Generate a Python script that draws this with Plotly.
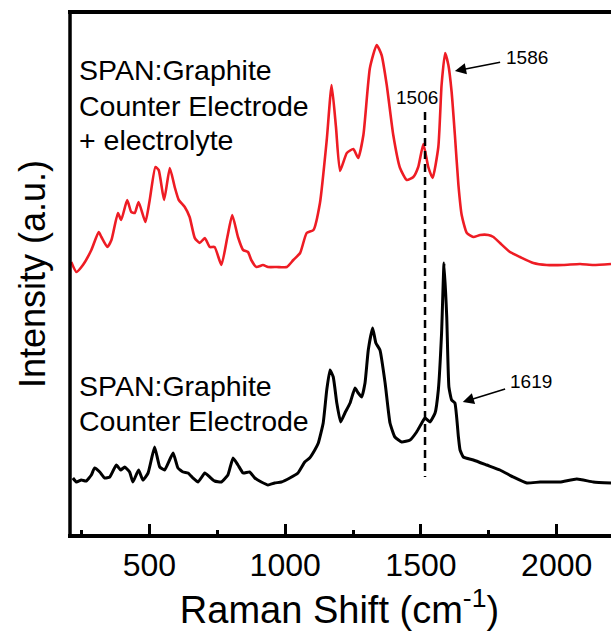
import plotly.graph_objects as go

# ---- data (x: Raman shift cm^-1, y: intensity a.u.) ----
red_x = [212, 231, 255, 286, 313, 323, 345, 360, 384, 396, 418, 433, 446, 460, 485, 501,
         522, 534, 554, 575, 593, 608, 630, 648, 667, 685, 704, 722, 740, 765, 787, 805,
         826, 845, 863, 875, 894, 918, 937, 969, 1006, 1030, 1055, 1079, 1104, 1128, 1153,
         1171, 1187, 1202, 1227, 1251, 1269, 1288, 1312, 1337, 1355, 1374, 1398, 1423, 1448,
         1472, 1490, 1509, 1527, 1543, 1564, 1576, 1589, 1601, 1613, 1625, 1638, 1650, 1669,
         1693, 1718, 1748, 1767, 1791, 1828, 1865, 1914, 1963, 2024, 2086, 2135, 2200]
red_y = [275, 265, 272, 287, 305, 300, 290, 297, 324, 317, 337, 325, 324, 335, 315, 337,
         370, 367, 337, 369, 350, 337, 330, 320, 299, 294, 299, 290, 290, 272, 300, 322,
         300, 287, 285, 277, 270, 272, 270, 270, 270, 277, 284, 304, 307, 334, 397,
         452, 410, 366, 384, 388, 379, 402, 469, 492, 482, 452, 402, 369, 357,
         360, 370, 393, 370, 359, 390, 452, 484, 472, 445, 402, 352, 322, 304,
         300, 302, 302, 300, 294, 285, 280, 274, 272, 272, 273, 272, 273]

black_x = [218, 231, 249, 267, 286, 298, 317, 335, 354, 378, 394, 409, 427, 439, 460, 476,
           495, 519, 538, 556, 587, 605, 624, 642, 660, 679, 704, 722, 740, 765, 789, 808,
           826, 845, 869, 888, 912, 937, 961, 986, 1017, 1047, 1072, 1090, 1109, 1122, 1140,
           1153, 1165, 1177, 1190, 1204, 1220, 1239, 1257, 1269, 1282, 1294, 1306, 1322, 1334,
           1349, 1368, 1386, 1404, 1429, 1460, 1484, 1503, 1515, 1533, 1552, 1564, 1576, 1585,
           1595, 1603, 1613, 1625, 1638, 1644, 1656, 1693, 1742, 1791, 1840, 1890, 1939, 2012,
           2074, 2135, 2200]
black_y = [59, 55, 57, 56, 62, 69, 65, 59, 60, 72, 67, 70, 65, 55, 67, 57,
           64, 90, 70, 67, 84, 69, 65, 64, 59, 55, 64, 60, 56, 55, 62, 79,
           72, 64, 65, 59, 55, 52, 54, 55, 59, 64, 75, 79, 87, 94, 114,
           147, 167, 160, 134, 115, 124, 134, 149, 144, 140, 154, 187, 209, 194,
           187, 154, 114, 100, 95, 97, 105, 114, 119, 115, 124, 147, 204, 274,
           220, 150, 137, 134, 100, 87, 80, 77, 72, 67, 60, 54, 55, 55,
           58, 55, 54]

marker_x = [1515, 1515]          # dashed reference line (1506 band)
marker_y = [425, 60]

FONT = "Liberation Sans, Arial, sans-serif"

fig = go.Figure()
fig.add_trace(go.Scatter(x=red_x, y=red_y, mode="lines",
                         line=dict(color="#ee1c24", width=2.6, shape="spline", smoothing=0.5),
                         showlegend=False, hoverinfo="skip"))
fig.add_trace(go.Scatter(x=black_x, y=black_y, mode="lines",
                         line=dict(color="black", width=3, shape="spline", smoothing=0.4),
                         showlegend=False, hoverinfo="skip"))
fig.add_trace(go.Scatter(x=marker_x, y=marker_y, mode="lines",
                         line=dict(color="black", width=2.5, dash="8px,5px"),
                         showlegend=False, hoverinfo="skip"))

ann = []
def txt(x, y, s, size, xanchor="left"):
    ann.append(dict(x=x, y=y, xref="x", yref="y", text=s, showarrow=False,
                    xanchor=xanchor, yanchor="middle",
                    font=dict(family=FONT, size=size, color="black")))

# curve labels
txt(234, 467.5, "SPAN:Graphite", 28.5)
txt(234, 431, "Counter Electrode", 28.5)
txt(234, 397.5, "+ electrolyte", 28.5)
txt(234, 151, "SPAN:Graphite", 28.5)
txt(234, 116, "Counter Electrode", 28.5)
# peak labels
txt(1484, 440, "1506", 19, xanchor="center")
# labelled arrows: text centred at (ax, ay), arrow head at (x, y)
for (label, tx, ty, hx, hy) in [("1586", 1889, 480, 1625, 466), ("1619", 1907, 156, 1654, 135)]:
    ann.append(dict(x=hx, y=hy, ax=tx, ay=ty, xref="x", yref="y", axref="x", ayref="y",
                    text=label, showarrow=True, arrowhead=2, arrowsize=1.4, arrowwidth=1.6,
                    arrowcolor="black", standoff=0, startstandoff=4,
                    font=dict(family=FONT, size=19, color="black")))

fig.update_layout(
    width=611, height=632,
    margin=dict(l=68, r=0, t=14, b=98, autoexpand=False),
    paper_bgcolor="white", plot_bgcolor="white",
    annotations=ann,
    shapes=[dict(type="line", xref="paper", yref="paper", x0=0.0037, x1=0.0037,
                 y0=-0.0067, y1=1.0072, line=dict(color="black", width=3.5), layer="above")],
)
fig.update_xaxes(range=[200, 2200], showgrid=False, zeroline=False,
                 showline=True, linecolor="black", linewidth=3.5, mirror=True,
                 ticks="inside", ticklen=10, tickwidth=2.5, tickcolor="black",
                 tick0=0, dtick=500,
                 minor=dict(ticks="inside", ticklen=4, tickwidth=2.5, tickcolor="black",
                            tick0=250, dtick=500),
                 tickfont=dict(family=FONT, size=32, color="black"),
                 separatethousands=False,
                 title=dict(text="Raman Shift (cm<sup>-1</sup>)", standoff=6,
                            font=dict(family=FONT, size=38, color="black")))
fig.update_yaxes(range=[3, 523], showgrid=False, zeroline=False, showline=False,
                 showticklabels=False, ticks="",
                 title=dict(text="Intensity (a.u.)", standoff=10,
                            font=dict(family=FONT, size=36, color="black")))

fig.write_html("out.html")
